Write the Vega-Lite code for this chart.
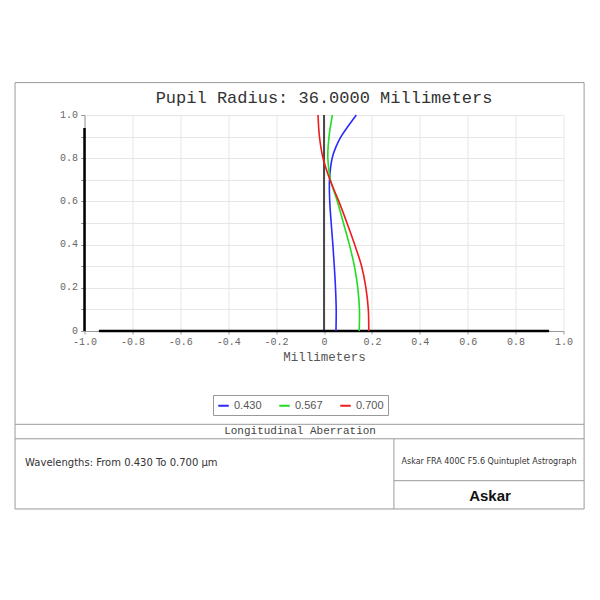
{
  "$schema": "https://vega.github.io/schema/vega-lite/v6.json",
  "width": 479,
  "height": 216,
  "autosize": "none",
  "padding": {"left": 84.5, "top": 115, "right": 36.5, "bottom": 269},
  "background": "white",
  "config": {"view": {"stroke": null}},
  "title": {
    "text": "Pupil Radius: 36.0000 Millimeters",
    "font": "Liberation Mono",
    "fontSize": 17,
    "fontWeight": "normal",
    "color": "#333333",
    "anchor": "middle",
    "frame": "group",
    "baseline": "alphabetic",
    "offset": 12,
    "dy": 50
  },
  "datasets": {
    "curves": [
      {"series": "0.430", "x": 0.050, "y": 0.0},
      {"series": "0.430", "x": 0.051, "y": 0.1},
      {"series": "0.430", "x": 0.048, "y": 0.2},
      {"series": "0.430", "x": 0.043, "y": 0.3},
      {"series": "0.430", "x": 0.037, "y": 0.4},
      {"series": "0.430", "x": 0.030, "y": 0.5},
      {"series": "0.430", "x": 0.024, "y": 0.6},
      {"series": "0.430", "x": 0.023, "y": 0.7},
      {"series": "0.430", "x": 0.034, "y": 0.8},
      {"series": "0.430", "x": 0.049, "y": 0.85},
      {"series": "0.430", "x": 0.071, "y": 0.9},
      {"series": "0.430", "x": 0.102, "y": 0.95},
      {"series": "0.430", "x": 0.135, "y": 1.0},
      {"series": "0.567", "x": 0.147, "y": 0.0},
      {"series": "0.567", "x": 0.148, "y": 0.1},
      {"series": "0.567", "x": 0.141, "y": 0.2},
      {"series": "0.567", "x": 0.127, "y": 0.3},
      {"series": "0.567", "x": 0.106, "y": 0.4},
      {"series": "0.567", "x": 0.081, "y": 0.5},
      {"series": "0.567", "x": 0.056, "y": 0.6},
      {"series": "0.567", "x": 0.027, "y": 0.7},
      {"series": "0.567", "x": 0.016, "y": 0.8},
      {"series": "0.567", "x": 0.021, "y": 0.9},
      {"series": "0.567", "x": 0.035, "y": 1.0},
      {"series": "0.700", "x": 0.187, "y": 0.0},
      {"series": "0.700", "x": 0.185, "y": 0.1},
      {"series": "0.700", "x": 0.175, "y": 0.2},
      {"series": "0.700", "x": 0.157, "y": 0.3},
      {"series": "0.700", "x": 0.128, "y": 0.4},
      {"series": "0.700", "x": 0.096, "y": 0.5},
      {"series": "0.700", "x": 0.062, "y": 0.6},
      {"series": "0.700", "x": 0.025, "y": 0.7},
      {"series": "0.700", "x": -0.004, "y": 0.8},
      {"series": "0.700", "x": -0.019, "y": 0.9},
      {"series": "0.700", "x": -0.025, "y": 1.0}
    ],
    "axisLines": [
      {"x": -1.0, "x2": -1.0, "y": 0.0, "y2": 0.94},
      {"x": -0.94, "x2": 0.94, "y": 0.0, "y2": 0.0}
    ],
    "zeroLine": [
      {"x": 0.0, "x2": 0.0, "y": 0.0, "y2": 1.0}
    ],
    "frame": [
      {"x": -1.29, "x2": 1.086, "y": 1.15, "y2": 1.15},
      {"x": -1.29, "x2": 1.086, "y": -0.824, "y2": -0.824},
      {"x": -1.29, "x2": -1.29, "y": -0.824, "y2": 1.15},
      {"x": 1.086, "x2": 1.086, "y": -0.824, "y2": 1.15},
      {"x": -1.29, "x2": 1.086, "y": -0.432, "y2": -0.432},
      {"x": -1.29, "x2": 1.086, "y": -0.499, "y2": -0.499},
      {"x": 0.292, "x2": 0.292, "y": -0.499, "y2": -0.824},
      {"x": 0.292, "x2": 1.086, "y": -0.693, "y2": -0.693}
    ],
    "tableTitle": [{"x": -0.1, "y": -0.465, "text": "Longitudinal Aberration"}],
    "wavelengths": [{"x": -1.248, "y": -0.611, "text": "Wavelengths: From 0.430 To 0.700 μm"}],
    "product": [{"x": 0.689, "y": -0.606, "text": "Askar FRA 400C F5.6 Quintuplet Astrograph"}],
    "brand": [{"x": 0.693, "y": -0.764, "text": "Askar"}]
  },
  "encoding": {
    "x": {
      "field": "x",
      "type": "quantitative",
      "scale": {"domain": [-1, 1], "nice": false, "zero": false},
      "axis": {
        "title": "Millimeters",
        "values": [-1, -0.8, -0.6, -0.4, -0.2, 0, 0.2, 0.4, 0.6, 0.8, 1],
        "labelExpr": "datum.value == 0 ? '0' : replace(format(datum.value, '.1f'), '−', '-')",
        "labelFlush": false,
        "labelOverlap": false,
        "labelFont": "Liberation Mono",
        "labelFontSize": 10,
        "labelColor": "#666666",
        "labelPadding": 2,
        "tickSize": 3,
        "tickColor": "#999999",
        "domainColor": "#999999",
        "grid": true,
        "gridColor": "#e6e6e6",
        "titleFont": "Liberation Mono",
        "titleFontSize": 12.5,
        "titleFontWeight": "normal",
        "titleColor": "#555555",
        "titlePadding": 4
      }
    },
    "y": {
      "field": "y",
      "type": "quantitative",
      "scale": {"domain": [0, 1], "nice": false, "zero": false},
      "axis": {
        "title": null,
        "values": [0, 0.1, 0.2, 0.3, 0.4, 0.5, 0.6, 0.7, 0.8, 0.9, 1],
        "labelExpr": "round(datum.value * 10) % 2 == 0 ? (datum.value == 0 ? '0' : format(datum.value, '.1f')) : ''",
        "labelFlush": false,
        "labelOverlap": false,
        "labelFont": "Liberation Mono",
        "labelFontSize": 10,
        "labelColor": "#666666",
        "labelPadding": 3,
        "labelBaseline": "middle",
        "labelOffset": -1,
        "tickSize": 4,
        "tickColor": "#999999",
        "domainColor": "#999999",
        "grid": true,
        "gridColor": "#e6e6e6"
      }
    }
  },
  "layer": [
    {
      "data": {"name": "axisLines"},
      "mark": {"type": "rule", "color": "#000000", "strokeWidth": 2.5, "clip": false},
      "encoding": {"x2": {"field": "x2"}, "y2": {"field": "y2"}}
    },
    {
      "data": {"name": "zeroLine"},
      "mark": {"type": "rule", "color": "#111111", "strokeWidth": 1.5, "clip": false},
      "encoding": {"x2": {"field": "x2"}, "y2": {"field": "y2"}}
    },
    {
      "data": {"name": "curves"},
      "mark": {"type": "line", "strokeWidth": 1.6, "interpolate": "catmull-rom", "clip": false},
      "encoding": {
        "order": {"field": "y", "type": "quantitative"},
        "color": {
          "field": "series",
          "type": "nominal",
          "scale": {"domain": ["0.430", "0.567", "0.700"], "range": ["#2b2bff", "#22dd22", "#ee1c1c"]},
          "legend": {
            "title": null,
            "orient": "none",
            "direction": "horizontal",
            "legendX": 128.5,
            "legendY": 280,
            "symbolType": "stroke",
            "symbolSize": 110,
            "symbolStrokeWidth": 2,
            "labelFont": "Liberation Sans",
            "labelFontSize": 11,
            "labelColor": "#555555",
            "labelOffset": 4,
            "columnPadding": 13,
            "padding": 4,
            "strokeColor": "#999999",
            "fillColor": "white"
          }
        }
      }
    },
    {
      "data": {"name": "frame"},
      "mark": {"type": "rule", "color": "#9a9a9a", "strokeWidth": 1, "clip": false},
      "encoding": {"x2": {"field": "x2"}, "y2": {"field": "y2"}}
    },
    {
      "data": {"name": "tableTitle"},
      "mark": {"type": "text", "font": "Liberation Mono", "fontSize": 11, "color": "#444444", "align": "center", "baseline": "middle", "clip": false},
      "encoding": {"text": {"field": "text"}}
    },
    {
      "data": {"name": "wavelengths"},
      "mark": {"type": "text", "font": "DejaVu Sans", "fontSize": 10, "color": "#333333", "align": "left", "baseline": "middle", "clip": false},
      "encoding": {"text": {"field": "text"}}
    },
    {
      "data": {"name": "product"},
      "mark": {"type": "text", "font": "DejaVu Sans", "fontSize": 8, "color": "#333333", "align": "center", "baseline": "middle", "clip": false},
      "encoding": {"text": {"field": "text"}}
    },
    {
      "data": {"name": "brand"},
      "mark": {"type": "text", "font": "Liberation Sans", "fontSize": 15, "fontWeight": "bold", "color": "#111111", "align": "center", "baseline": "middle", "clip": false},
      "encoding": {"text": {"field": "text"}}
    }
  ]
}
